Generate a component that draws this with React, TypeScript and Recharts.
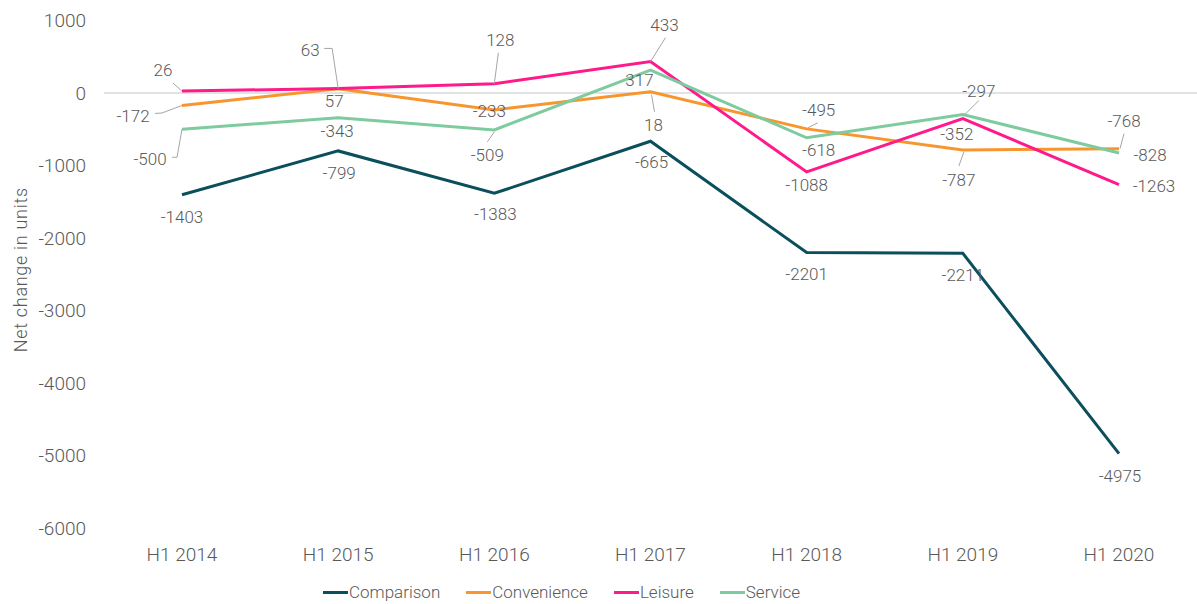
import React from 'react';
import { LineChart, Line, XAxis, YAxis, ReferenceLine, Legend, LabelList, Label } from 'recharts';

const categories = ['H1 2014', 'H1 2015', 'H1 2016', 'H1 2017', 'H1 2018', 'H1 2019', 'H1 2020'];
const comparison = [-1403, -799, -1383, -665, -2201, -2211, -4975];
const convenience = [-172, 57, -233, 18, -495, -787, -768];
const leisure = [26, 63, 128, 433, -1088, -352, -1263];
const service = [-500, -343, -509, 317, -618, -297, -828];
const yTicks = [1000, 0, -1000, -2000, -3000, -4000, -5000, -6000];

const seriesNames = ['Comparison', 'Convenience', 'Leisure', 'Service'];
const seriesColors = ['#0B4F5C', '#F7962F', '#FF1A8C', '#7DCB9E'];

const data = categories.map((name, i) => ({
  name,
  Comparison: comparison[i],
  Convenience: convenience[i],
  Leisure: leisure[i],
  Service: service[i],
}));

type Placement = { dx: number; dy: number; leader?: [number, number][] };

const compLabels: Placement[] = [
  { dx: 0, dy: 22 }, { dx: 1, dy: 22 }, { dx: 1, dy: 21 }, { dx: 1, dy: 21 },
  { dx: 0, dy: 21 }, { dx: 0, dy: 22 }, { dx: 1, dy: 22 },
];
const convLabels: Placement[] = [
  { dx: -49, dy: 11, leader: [[-27, 8], [-20, 7.5], [0, 0]] },
  { dx: -4, dy: 12 },
  { dx: -5, dy: 1 },
  { dx: 3, dy: 33, leader: [[1, 3], [4, 20]] },
  { dx: 12, dy: -19, leader: [[1, -1], [11, -6]] },
  { dx: -4, dy: 30, leader: [[1, 2], [-4, 16]] },
  { dx: 5, dy: -28, leader: [[1, 0], [5, -15]] },
];
const leisLabels: Placement[] = [
  { dx: -19, dy: -21, leader: [[-9, -8], [0, 0]] },
  { dx: -28, dy: -38, leader: [[-14, -40], [-6, -40], [0, 0]] },
  { dx: 6, dy: -44, leader: [[4, -31], [0, 0]] },
  { dx: 14, dy: -37, leader: [[15, -24], [0, 0]] },
  { dx: 0, dy: 13 },
  { dx: -6, dy: 15 },
  { dx: 35, dy: 1 },
];
const servLabels: Placement[] = [
  { dx: -32, dy: 30, leader: [[-10, 28], [-5, 28], [0, 0]] },
  { dx: -1, dy: 13 },
  { dx: -7, dy: 25, leader: [[-7, 12], [0, 2]] },
  { dx: -11, dy: 10 },
  { dx: 12, dy: 12 },
  { dx: 16, dy: -24, leader: [[16, -14], [2, 0]] },
  { dx: 31, dy: 2 },
];
const placements = [compLabels, convLabels, leisLabels, servLabels];

const FONT = 'Roboto, "Liberation Sans", sans-serif';
const TEXT = '#595959';

const makeLabel = (pl: Placement[]) => (props: any) => {
  const { x, y, value, index } = props;
  const p = pl[index];
  if (!p || x == null || y == null) return null;
  return (
    <g>
      {p.leader && (
        <polyline
          points={p.leader.map(([a, b]) => `${x + a},${y + b}`).join(' ')}
          fill="none"
          stroke="#a6a6a6"
          strokeWidth={1}
        />
      )}
      <text
        x={x + p.dx}
        y={y + p.dy}
        textAnchor="middle"
        dominantBaseline="central"
        fontFamily={FONT}
        fontWeight={300}
        fontSize={17}
        fill={TEXT}
      >
        {value}
      </text>
    </g>
  );
};

const YTitle = (props: any) => {
  const vb = props.viewBox || { x: 0, y: 20.5, width: 104, height: 507.5 };
  const cx = vb.x + 20;
  const cy = vb.y + vb.height / 2 - 4.5;
  return (
    <text
      x={cx}
      y={cy}
      transform={`rotate(-90, ${cx}, ${cy})`}
      textAnchor="middle"
      dominantBaseline="central"
      fontFamily={FONT}
      fontWeight={300}
      fontSize={18}
      letterSpacing={0.7}
      fill={TEXT}
    >
      Net change in units
    </text>
  );
};

const LegendContent = () => (
  <div style={{ display: 'flex', alignItems: 'center', height: 24, fontFamily: FONT, fontWeight: 300, fontSize: 17, color: TEXT }}>
    {seriesNames.map((n, i) => (
      <div key={n} style={{ display: 'flex', alignItems: 'center', marginRight: 26 }}>
        <div style={{ width: 25, height: 3, background: seriesColors[i], marginRight: 1 }} />
        <span>{n}</span>
      </div>
    ))}
  </div>
);

export default function App() {
  return (
    <div style={{ position: 'absolute', left: 0, top: 0, background: '#fff' }}>
      <LineChart width={1197} height={604} data={data} margin={{ top: 20.5, right: 0, bottom: 0, left: 0 }}>
        <XAxis
          dataKey="name"
          axisLine={false}
          tickLine={false}
          height={52}
          tickMargin={14}
          padding={{ left: 78, right: 78 }}
          tick={{ fontSize: 19, fill: TEXT, fontFamily: FONT, fontWeight: 300 }}
          interval={0}
        />
        <YAxis
          width={104}
          domain={[-6000, 1000]}
          ticks={yTicks}
          interval={0}
          axisLine={false}
          tickLine={false}
          tickMargin={12}
          tick={{ fontSize: 19, fill: TEXT, fontFamily: FONT, fontWeight: 300 }}
        >
          <Label content={<YTitle />} />
        </YAxis>
        <ReferenceLine y={0} stroke="#d9d9d9" strokeWidth={1.5} />
        {seriesNames.map((n, i) => (
          <Line
            key={n}
            type="linear"
            dataKey={n}
            stroke={seriesColors[i]}
            strokeWidth={3}
            dot={false}
            activeDot={false}
            isAnimationActive={false}
          >
            <LabelList dataKey={n} content={makeLabel(placements[i])} />
          </Line>
        ))}
        <Legend
          verticalAlign="bottom"
          content={() => <LegendContent />}
          wrapperStyle={{ left: 323, width: 'auto' }}
        />
      </LineChart>
    </div>
  );
}
